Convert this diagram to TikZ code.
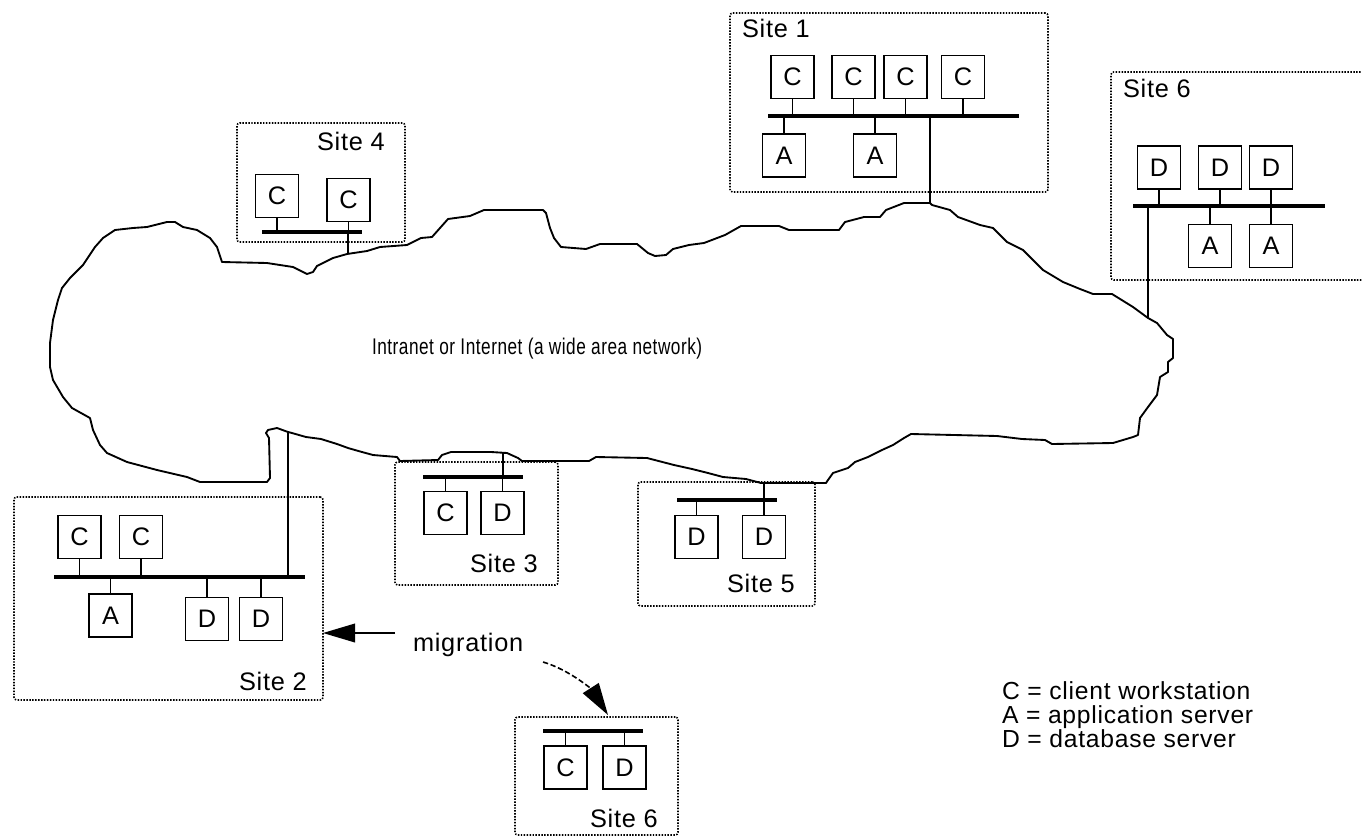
\documentclass[tikz,border=0pt]{standalone}
\usepackage{fontspec}
\setmainfont{Liberation Sans}[LetterSpace=3]
\usetikzlibrary{arrows.meta}
\begin{document}
\begin{tikzpicture}[x=0.75pt,y=-0.75pt,
  font=\fontsize{19}{22}\selectfont,
  sitebox/.style={draw, line width=1.2pt, dash pattern=on 1.1pt off 1.1pt, rounded corners=2pt, inner sep=0pt, outer sep=0pt, anchor=north west},
  comp/.style={draw, line width=1.2pt, minimum width=32.5pt, minimum height=32.5pt, inner sep=0pt, outer sep=0pt},
  bus/.style={line width=3pt},
  wire/.style={line width=1.2pt},
  cloudline/.style={line width=1.4pt, line join=round},
  lbl/.style={anchor=base west, inner sep=0pt, outer sep=0pt},
  bigtip/.style={-{Triangle[length=24pt,width=14pt]}}
]
\clip (0,0) rectangle (1362,839);
\fill[white] (0,0) rectangle (1362,839);

% cloud
\draw[cloudline] (115,230) -- (133,228) -- (147,227) -- (167,222) -- (175,222) -- (183,227) -- (197,230) -- (210,238) -- (217,247) -- (222,262) -- (267,263) -- (293,267) -- (307,274) -- (313,272) -- (317,266) -- (333,258) -- (347,254) -- (367,251) -- (380,247) -- (407,245) -- (421,238) -- (432,237) -- (448,219) -- (470,216) -- (484,210) -- (543,210) -- (546,213) -- (550,228) -- (554,238) -- (561,247) -- (586,249) -- (600,244) -- (637,244) -- (648,253) -- (655,256) -- (666,255) -- (673,249) -- (689,245) -- (704,243) -- (725,235) -- (741,226) -- (779,226) -- (789,230) -- (839,230) -- (845,222) -- (864,217) -- (880,217) -- (886,210) -- (904,203) -- (930,203) -- (932,205) -- (950,210) -- (958,217) -- (980,225) -- (993,228) -- (1007,242) -- (1023,250) -- (1043,270) -- (1063,282) -- (1080,289) -- (1093,294) -- (1112,294) -- (1133,307) -- (1148,318) -- (1157,323) -- (1167,335) -- (1173,339) -- (1173,358) -- (1168,362) -- (1168,372) -- (1160,377) -- (1157,395) -- (1148,407) -- (1140,418) -- (1138,435) -- (1133,437) -- (1113,443) -- (1052,444) -- (1045,440) -- (1022,439) -- (997,436) -- (911,434) -- (904,438) -- (893,445) -- (882,450) -- (868,457) -- (855,462) -- (848,468) -- (833,473) -- (828,480) -- (826,483) -- (761,483) -- (746,479) -- (723,477) -- (708,473) -- (692,469) -- (674,465) -- (647,458) -- (596,457) -- (589,461) -- (522,461) -- (518,458) -- (507,453) -- (491,452) -- (451,452) -- (442,455) -- (438,460) -- (400,461) -- (397,457) -- (373,455) -- (362,452) -- (348,448) -- (337,444) -- (321,439) -- (306,437) -- (292,433) -- (288,432) -- (277,428) -- (268,430) -- (266,433) -- (269,438) -- (270,478) -- (267,482) -- (253,482) -- (200,482) -- (187,477) -- (157,470) -- (127,462) -- (107,453) -- (100,445) -- (93,430) -- (90,418) -- (72,408) -- (63,397) -- (53,380) -- (50,367) -- (50,343) -- (53,320) -- (58,300) -- (62,288) -- (70,278) -- (83,265) -- (95,247) -- (103,238) -- cycle;
\node[lbl, font=\fontsize{17}{20}\selectfont] (wan) at (372,354) {\scalebox{0.76}[1]{Intranet or Internet (a wide area network)}};

% ---------- Site 1
\node[sitebox, minimum width=238.5pt, minimum height=134.25pt] (site1) at (730,13) {};
\node[lbl] (t1) at (742,37) {Site 1};
\node[comp] (s1c1) at (792.5,77) {C};
\node[comp] (s1c2) at (853.5,77) {C};
\node[comp] (s1c3) at (905.5,77) {C};
\node[comp] (s1c4) at (963,77) {C};
\node[comp] (s1a1) at (784,155.5) {A};
\node[comp] (s1a2) at (875,155.5) {A};
\coordinate (s1l) at (768,116); \coordinate (s1r) at (1019,116);
\draw[bus] (s1l) -- (s1r);
\foreach \n in {s1c1,s1c2,s1c3,s1c4} \draw[wire] (\n.south) -- (\n.south |- s1l);
\foreach \n in {s1a1,s1a2} \draw[wire] (\n.north) -- (\n.north |- s1l);
\coordinate (s1up) at (930,116); \coordinate (w1) at (930,203);
\draw[wire] (s1up) -- (w1);

% ---------- Site 6 (top right)
\node[sitebox, minimum width=198pt, minimum height=156pt] (site6a) at (1111,72) {};
\node[lbl] (t6a) at (1123,97) {Site 6};
\node[comp] (s6d1) at (1159,167.5) {D};
\node[comp] (s6d2) at (1220,167.5) {D};
\node[comp] (s6d3) at (1271,167.5) {D};
\node[comp] (s6a1) at (1210,246) {A};
\node[comp] (s6a2) at (1271,246) {A};
\coordinate (s6l) at (1133,206); \coordinate (s6r) at (1325,206);
\draw[bus] (s6l) -- (s6r);
\foreach \n in {s6d1,s6d2,s6d3} \draw[wire] (\n.south) -- (\n.south |- s6l);
\foreach \n in {s6a1,s6a2} \draw[wire] (\n.north) -- (\n.north |- s6l);
\coordinate (s6up) at (1148,206); \coordinate (w6) at (1148,318);
\draw[wire] (s6up) -- (w6);

% ---------- Site 4
\node[sitebox, minimum width=126pt, minimum height=89.25pt] (site4) at (237,123) {};
\node[lbl] (t4) at (317,150) {Site 4};
\node[comp] (s4c1) at (277,196) {C};
\node[comp] (s4c2) at (348.5,200) {C};
\coordinate (s4l) at (262,232); \coordinate (s4r) at (362,232);
\draw[bus] (s4l) -- (s4r);
\foreach \n in {s4c1,s4c2} \draw[wire] (\n.south) -- (\n.south |- s4l);
\coordinate (s4up) at (348,232); \coordinate (w4) at (348,254);
\draw[wire] (s4up) -- (w4);

% ---------- Site 2
\node[sitebox, minimum width=231.75pt, minimum height=152.25pt] (site2) at (14,497) {};
\node[lbl] (t2) at (239,690) {Site 2};
\node[comp] (s2c1) at (79.5,537) {C};
\node[comp] (s2c2) at (141,537) {C};
\node[comp] (s2a1) at (110.5,615.5) {A};
\node[comp] (s2d1) at (207,619) {D};
\node[comp] (s2d2) at (261,619) {D};
\coordinate (s2l) at (54,577); \coordinate (s2r) at (305,577);
\draw[bus] (s2l) -- (s2r);
\foreach \n in {s2c1,s2c2} \draw[wire] (\n.south) -- (\n.south |- s2l);
\foreach \n in {s2a1,s2d1,s2d2} \draw[wire] (\n.north) -- (\n.north |- s2l);
\coordinate (s2up) at (288,577); \coordinate (w2) at (288,432);
\draw[wire] (s2up) -- (w2);

% ---------- Site 3
\node[sitebox, minimum width=122.25pt, minimum height=92.25pt] (site3) at (395,462) {};
\node[lbl] (t3) at (470,572) {Site 3};
\node[comp] (s3c1) at (445.5,513) {C};
\node[comp] (s3d1) at (502.5,513) {D};
\coordinate (s3l) at (423,477); \coordinate (s3r) at (523,477);
\draw[bus] (s3l) -- (s3r);
\foreach \n in {s3c1,s3d1} \draw[wire] (\n.north) -- (\n.north |- s3l);
\coordinate (s3up) at (503,477); \coordinate (w3) at (503,453);
\draw[wire] (s3up) -- (w3);

% ---------- Site 5
\node[sitebox, minimum width=132.75pt, minimum height=93pt] (site5) at (638,482) {};
\node[lbl] (t5) at (727,592) {Site 5};
\node[comp] (s5d1) at (696.5,537) {D};
\node[comp] (s5d2) at (764,537) {D};
\coordinate (s5l) at (677,500); \coordinate (s5r) at (777,500);
\draw[bus] (s5l) -- (s5r);
\foreach \n in {s5d1,s5d2} \draw[wire] (\n.north) -- (\n.north |- s5l);
\coordinate (s5up) at (764,500); \coordinate (w5) at (764,483);
\draw[wire] (s5up) -- (w5);

% ---------- Site 6 (bottom)
\node[sitebox, minimum width=122.25pt, minimum height=88.5pt] (site6b) at (515,717) {};
\node[lbl] (t6b) at (590,827) {Site 6};
\node[comp] (s6bc) at (565.5,767.5) {C};
\node[comp] (s6bd) at (624.5,767.5) {D};
\coordinate (s6bl) at (543,731); \coordinate (s6br) at (643,731);
\draw[bus] (s6bl) -- (s6br);
\foreach \n in {s6bc,s6bd} \draw[wire] (\n.north) -- (\n.north |- s6bl);

% ---------- migration
\node[lbl] (mig) at (413,651) {migration};
\coordinate (m2tail) at (395,633); \coordinate (m2tip) at (323,633);
\draw[wire, bigtip] (m2tail) -- (m2tip);
\coordinate (m6tail) at (543,662); \coordinate (m6tip) at (608,715);
\draw[wire, dash pattern=on 4pt off 2pt, -{Triangle[length=24pt,width=14pt]}] (m6tail) .. controls (570,670) and (592,690) .. (m6tip);

% ---------- legend
\node[anchor=north west, align=left, inner sep=0pt, outer sep=0pt, font=\fontsize{18.5}{18}\selectfont] (legend) at (1002,682) {C = client workstation\\A = application server\\D = database server};
\end{tikzpicture}
\end{document}
